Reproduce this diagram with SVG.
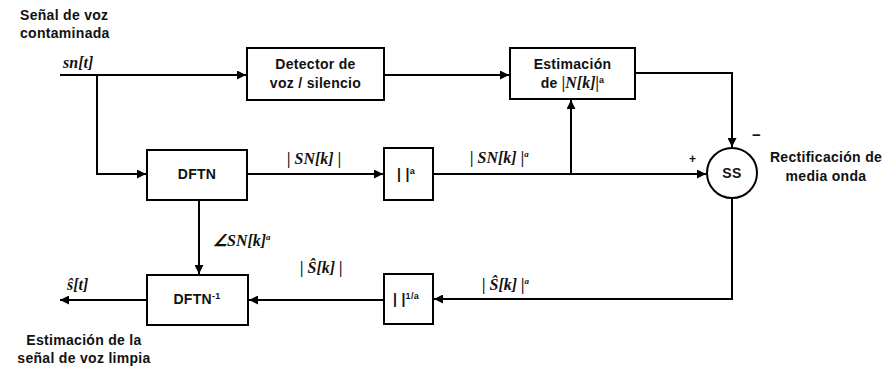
<svg xmlns="http://www.w3.org/2000/svg" width="891" height="368" viewBox="0 0 891 368">
<defs>
<marker id="ah" viewBox="0 0 10 10" refX="10" refY="5" markerWidth="12" markerHeight="9" markerUnits="userSpaceOnUse" orient="auto">
<path d="M0,0 L10,5 L0,10 z" fill="#000"/>
</marker>
<style>
.box{fill:#fff;stroke:#000;stroke-width:2}
.ln{fill:none;stroke:#000;stroke-width:2}
.t{font-family:"Liberation Sans",Arial,sans-serif;font-size:14px;font-weight:bold;letter-spacing:0.3px;fill:#111}
.m{font-family:"Liberation Serif","Times New Roman",serif;font-size:16px;font-style:italic;font-weight:bold;fill:#111}
.sup{font-size:9px}
</style>
</defs>
<rect width="891" height="368" fill="#fff"/>
<g id="connectors">
<path class="ln" d="M60,75 H246" marker-end="url(#ah)"/>
<path class="ln" d="M97,75 V174 H146" marker-end="url(#ah)"/>
<path class="ln" d="M384,75 H509" marker-end="url(#ah)"/>
<path class="ln" d="M635,73 H732 V147" marker-end="url(#ah)"/>
<path class="ln" d="M247,174 H383" marker-end="url(#ah)"/>
<path class="ln" d="M433,174 H706" marker-end="url(#ah)"/>
<path class="ln" d="M571,174 V100" marker-end="url(#ah)"/>
<path class="ln" d="M199,200 V274" marker-end="url(#ah)"/>
<path class="ln" d="M732,198 V299 H434" marker-end="url(#ah)"/>
<path class="ln" d="M384,300 H249" marker-end="url(#ah)"/>
<path class="ln" d="M147,300 H60" marker-end="url(#ah)"/>
</g>
<g id="labels">
<text class="t" x="20" y="20">Señal de voz</text>
<text class="t" x="20" y="38">contaminada</text>
<text class="m" x="63" y="68">sn[t]</text>
<text class="m" x="287" y="164">| SN[k] |</text>
<text class="m" x="470" y="163">| SN[k] |<tspan class="sup" dy="-6">a</tspan></text>
<text class="t" x="689" y="163" style="font-size:12px">+</text>
<text class="t" x="752" y="140" style="font-size:15px">−</text>
<text class="t" x="826" y="162" text-anchor="middle">Rectificación de</text>
<text class="t" x="826" y="181" text-anchor="middle">media onda</text>
<text class="m" x="213" y="246">∠SN[k]<tspan class="sup" dy="-6">a</tspan></text>
<text class="m" x="300" y="273">| Ŝ[k] |</text>
<text class="m" x="482" y="290">| Ŝ[k] |<tspan class="sup" dy="-6">a</tspan></text>
<text class="m" x="67" y="290">ŝ[t]</text>
<text class="t" x="84" y="345" text-anchor="middle">Estimación de la</text>
<text class="t" x="84" y="363" text-anchor="middle">señal de voz limpia</text>
</g>
<g id="detector">
<rect class="box" x="247" y="48" width="137" height="52"/>
<text class="t" x="315.5" y="69" text-anchor="middle">Detector de</text>
<text class="t" x="315.5" y="88" text-anchor="middle">voz / silencio</text>
</g>
<g id="estimacion">
<rect class="box" x="510" y="48" width="125" height="51"/>
<text class="t" x="572.5" y="69" text-anchor="middle">Estimación</text>
<text x="572.5" y="88" text-anchor="middle"><tspan class="t">de </tspan><tspan class="m">|N[k]|</tspan><tspan class="t sup" dy="-5">a</tspan></text>
</g>
<g id="dftn">
<rect class="box" x="147" y="150" width="100" height="50"/>
<text class="t" x="197" y="179" text-anchor="middle">DFTN</text>
</g>
<g id="pow">
<rect class="box" x="384" y="148" width="49" height="52"/>
<text class="t" x="406" y="179" text-anchor="middle">| |<tspan class="sup" dy="-5">a</tspan></text>
</g>
<g id="ss">
<circle class="box" cx="732" cy="173" r="25"/>
<text class="t" x="732" y="178" text-anchor="middle">SS</text>
</g>
<g id="invpow">
<rect class="box" x="384" y="274" width="49" height="50"/>
<text class="t" x="406" y="304" text-anchor="middle">| |<tspan class="sup" dy="-5">1/a</tspan></text>
</g>
<g id="idftn">
<rect class="box" x="147" y="275" width="101" height="50"/>
<text class="t" x="197" y="304" text-anchor="middle">DFTN<tspan class="sup" dy="-5">-1</tspan></text>
</g>
</svg>
